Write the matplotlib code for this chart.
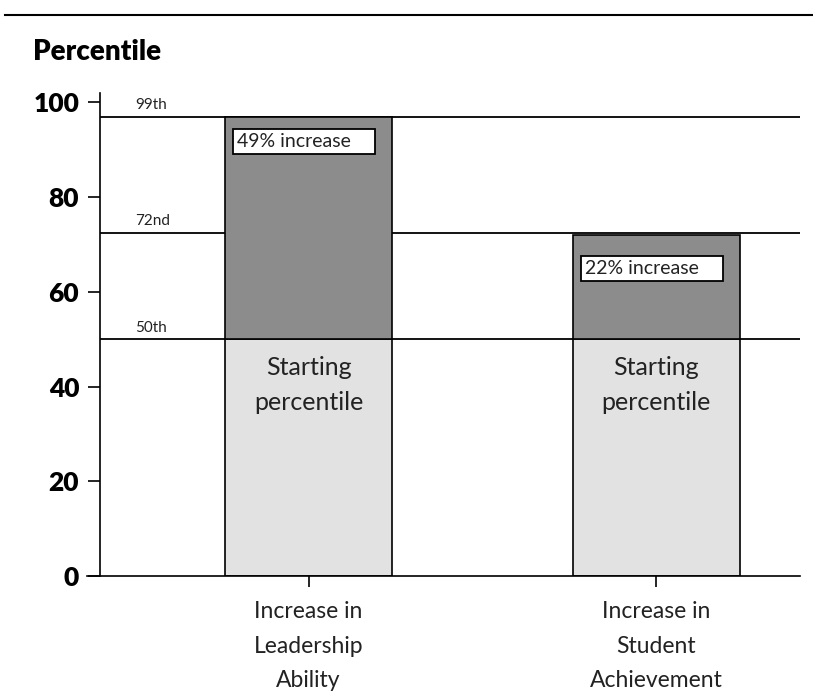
import matplotlib
matplotlib.use('Agg')
import matplotlib.pyplot as plt

plt.rcParams['font.family'] = ['Lato', 'DejaVu Sans']

# data
categories = ['Increase in\nLeadership\nAbility', 'Increase in\nStudent\nAchievement']
start_pct = [50, 50]
end_pct = [97, 72]
increase_labels = ['49% increase    ', '22% increase    ']
label_tops = [94.5, 67.7]
ref_levels = [97, 72.5, 50]
ref_labels = ['99th', '72nd', '50th']
yticks = [0, 20, 40, 60, 80, 100]

DARK = '#8c8c8c'
LIGHT = '#e2e2e2'

fig = plt.figure(figsize=(8.13, 6.95), dpi=100)
ax = fig.add_axes([100/813, (695-576)/695, 700/813, (576-93)/695])

x = [0, 1]
w = 0.48
# reference lines behind the bars
for lv, lab in zip(ref_levels, ref_labels):
    ax.axhline(lv, color='black', lw=1.3, zorder=1)
    ax.text(-0.5, lv + 1.0, lab, fontsize=11, va='bottom', ha='left', color='#222222')

gains = [e - s for s, e in zip(start_pct, end_pct)]
ax.bar(x, start_pct, width=w, color=LIGHT, edgecolor='black', lw=1.2, zorder=2)
ax.bar(x, gains, bottom=start_pct, width=w, color=DARK, edgecolor='black', lw=1.2, zorder=2)

for xi, s, top, lab in zip(x, start_pct, label_tops, increase_labels):
    ax.text(xi, s - 3.6, 'Starting\npercentile', ha='center', va='top', fontsize=18,
            linespacing=1.6, zorder=3, color='#222222')
    ax.text(xi - w/2 + 0.035, top - 0.9, lab, ha='left', va='top', fontsize=14,
            zorder=3, color='#222222',
            bbox=dict(boxstyle='square,pad=0.2', fc='white', ec='black', lw=1.3))

ax.set_xlim(-0.6, 1.414)
ax.set_ylim(0, 102)
ax.set_yticks(yticks)
ax.set_yticklabels([str(t) for t in yticks], fontsize=19, fontweight='heavy')
ax.set_xticks(x)
ax.set_xticklabels(categories, fontsize=16.5, linespacing=1.8, color='#222222')
ax.tick_params(axis='y', length=9, width=1.2, pad=6)
ax.tick_params(axis='x', length=8, width=1.2, pad=10)
for sp in ['top', 'right']:
    ax.spines[sp].set_visible(False)
ax.spines['left'].set_linewidth(1.2)
ax.spines['bottom'].set_linewidth(1.2)
ax.spines['bottom'].set_bounds(-0.636, 1.414)

fig.text(33/813, 1 - 52/695, 'Percentile', fontsize=20, fontweight='heavy', va='center', ha='left')
fig.add_artist(plt.Line2D([5/813, 1], [1 - 15/695, 1 - 15/695], color='black', lw=1.5))

fig.savefig('out.png', dpi=100)
